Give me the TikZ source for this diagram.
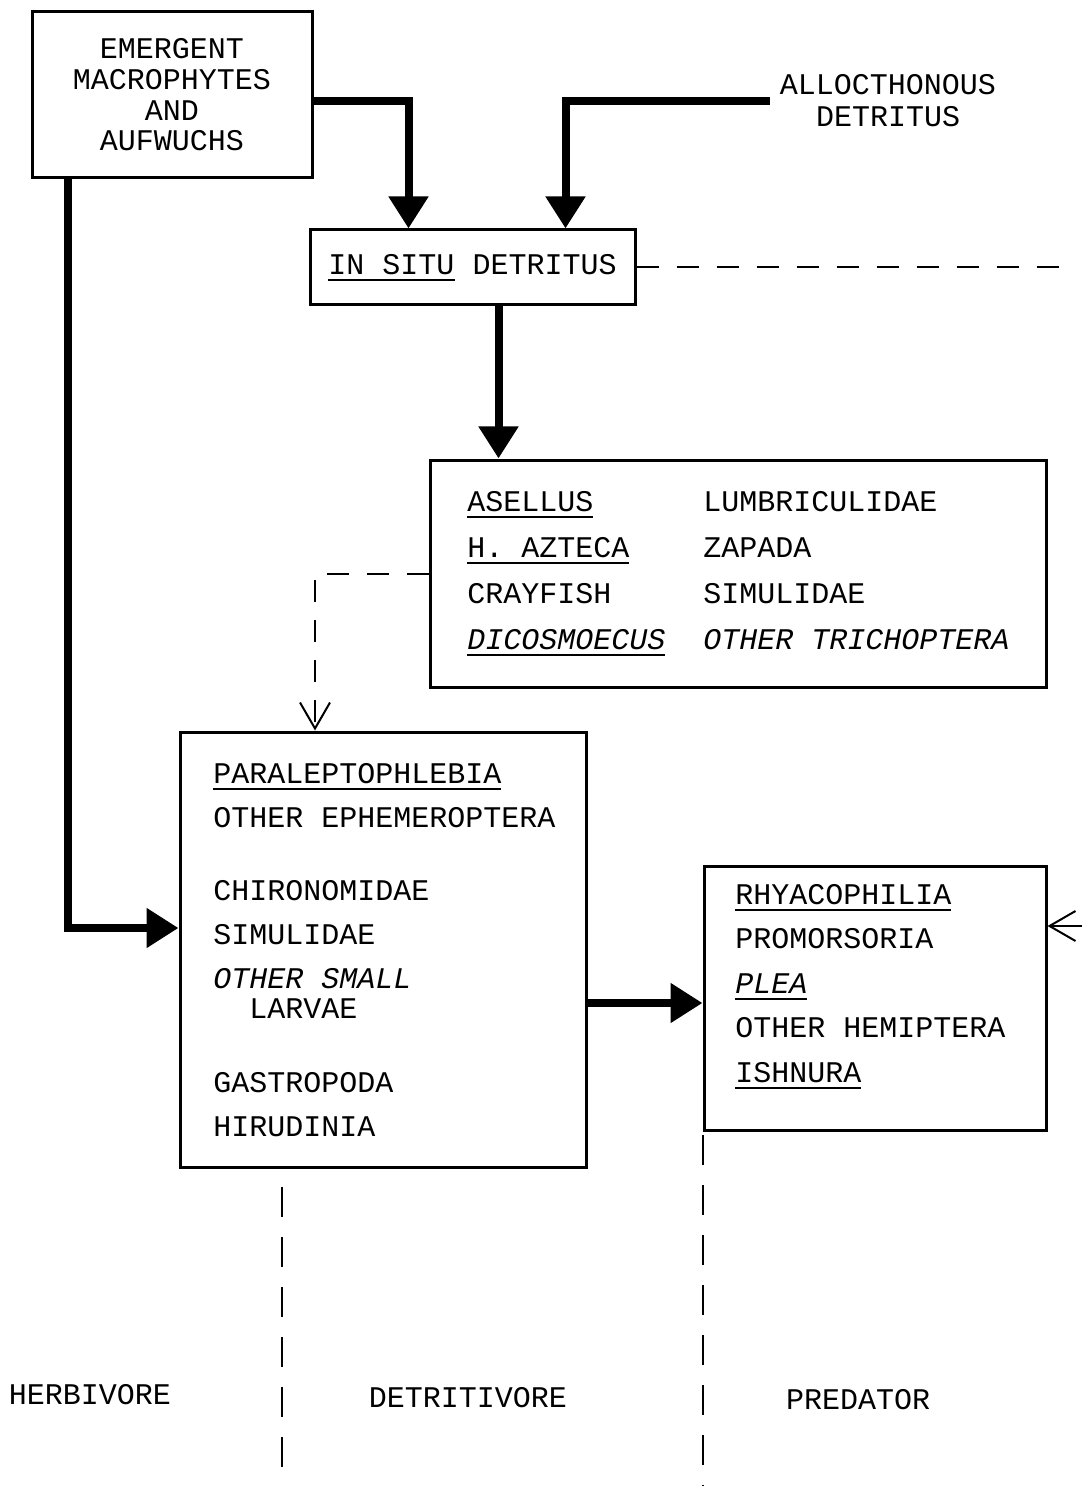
\documentclass[tikz,border=0pt]{standalone}
\usepackage{fontspec}
\setmonofont{Liberation Mono}
\usepackage{tikz}
\usetikzlibrary{positioning, arrows.meta, calc}
\newsavebox{\ulbox}
\newcommand{\uln}[1]{\sbox{\ulbox}{#1}\rlap{\rule[-3.5pt]{\wd\ulbox}{1.1pt}}\usebox{\ulbox}}
\newcommand{\tw}{\ttfamily\fontsize{15}{22}\selectfont}

\begin{document}
\begin{tikzpicture}[
  x=0.5pt, y=-0.5pt,
  box/.style={draw, line width=1.5pt, inner sep=0pt},
  listtxt/.style={font=\ttfamily\fontsize{15}{#1}\selectfont, align=left, inner sep=0pt, anchor=base west},
  listtxt/.default=22pt,
  tag/.style={font=\tw, inner sep=0pt},
  flow/.style={line width=4pt, -{Triangle[length=16pt, width=19pt]}},
  feed/.style={line width=1pt, dash pattern=on 11pt off 9pt},
  divider/.style={line width=0.9pt, dash pattern=on 15pt off 10pt},
  openarr/.style={-{Straight Barb[length=13pt, width=15pt, line width=1pt]}}
]
  \useasboundingbox[fill=white] (0,0) rectangle (1090,1486);

  % sources
  \node[box, minimum width=140pt, minimum height=83pt, align=center, font=\ttfamily\fontsize{15}{15.3}\selectfont] (emerg) at (172,95) {EMERGENT\\ MACROPHYTES\\ AND\\ AUFWUCHS};
  \node[tag, align=center, font=\ttfamily\fontsize{15}{16}\selectfont] (alloc) at (888,101) {ALLOCTHONOUS\\ DETRITUS};
  \node[box, minimum width=162.5pt, minimum height=37.5pt, font=\tw] (insitu) at (472.5,267.5) {\uln{IN SITU} DETRITUS};

  % consumer boxes (text nodes sit on their last baseline)
  \node[box, minimum width=308pt, minimum height=113.5pt] (detbox) at (738,573.5) {};
  \node[listtxt=23pt] (detleft) at (467,649) {\uln{ASELLUS}\\ \uln{H. AZTECA}\\ CRAYFISH\\ \uln{\itshape DICOSMOECUS}};
  \node[listtxt=23pt] (detright) at (703,649) {LUMBRICULIDAE\\ ZAPADA\\ SIMULIDAE\\ \itshape OTHER TRICHOPTERA};

  \node[box, minimum width=203pt, minimum height=217.5pt] (colbox) at (383,949.5) {};
  \node[listtxt] (coltxt) at (213,1136) {\uln{PARALEPTOPHLEBIA}\\ OTHER EPHEMEROPTERA\\[14.5pt] CHIRONOMIDAE\\ SIMULIDAE\\ \textit{OTHER SMALL}\\[-7pt] \hspace*{1.2em}LARVAE\\[15pt] GASTROPODA\\ HIRUDINIA};

  \node[box, minimum width=171pt, minimum height=132pt] (predbox) at (875,998) {};
  \node[listtxt=22.25pt] (predtxt) at (735,1082) {\uln{RHYACOPHILIA}\\ PROMORSORIA\\ \uln{\itshape PLEA}\\ OTHER HEMIPTERA\\ \uln{ISHNURA}};

  % trophic groups
  \node[tag] (herb) at (90,1395) {HERBIVORE};
  \node[tag] (detr) at (468,1398) {DETRITIVORE};
  \node[tag] (pred) at (858,1400) {PREDATOR};

  \coordinate (dashend) at (1070,267.5);
  \coordinate (pin) at (1082,926);
  \coordinate (predin) at ([yshift=-2.5pt]predbox.west);
  \coordinate (divatop) at (282,1187);
  \coordinate (divabot) at (282,1486);
  \coordinate (divbtop) at (703,1135);
  \coordinate (divbbot) at (703,1486);

  \draw[flow] ([yshift=-3pt]emerg.east) -| ([xshift=-32pt]insitu.north);
  \draw[flow] ([xshift=-5pt]alloc.west) -| ([xshift=46.5pt]insitu.north);
  \draw[flow] ([xshift=13pt]insitu.south) -- ([xshift=13pt]insitu.south |- detbox.north);
  \draw[flow] ([xshift=-52pt]emerg.south) |- ([yshift=10.75pt]colbox.west);
  \draw[flow] (colbox.east |- predin) -- (predin);
  \draw[feed] (insitu.east) -- (dashend);
  \draw[feed, openarr] (detbox.west) -| ([xshift=-34pt]colbox.north);
  \draw[line width=1pt, openarr] (pin) -- (pin -| predbox.east);
  \draw[divider] (divatop) -- (divabot);
  \draw[divider] (divbtop) -- (divbbot);
\end{tikzpicture}
\end{document}
